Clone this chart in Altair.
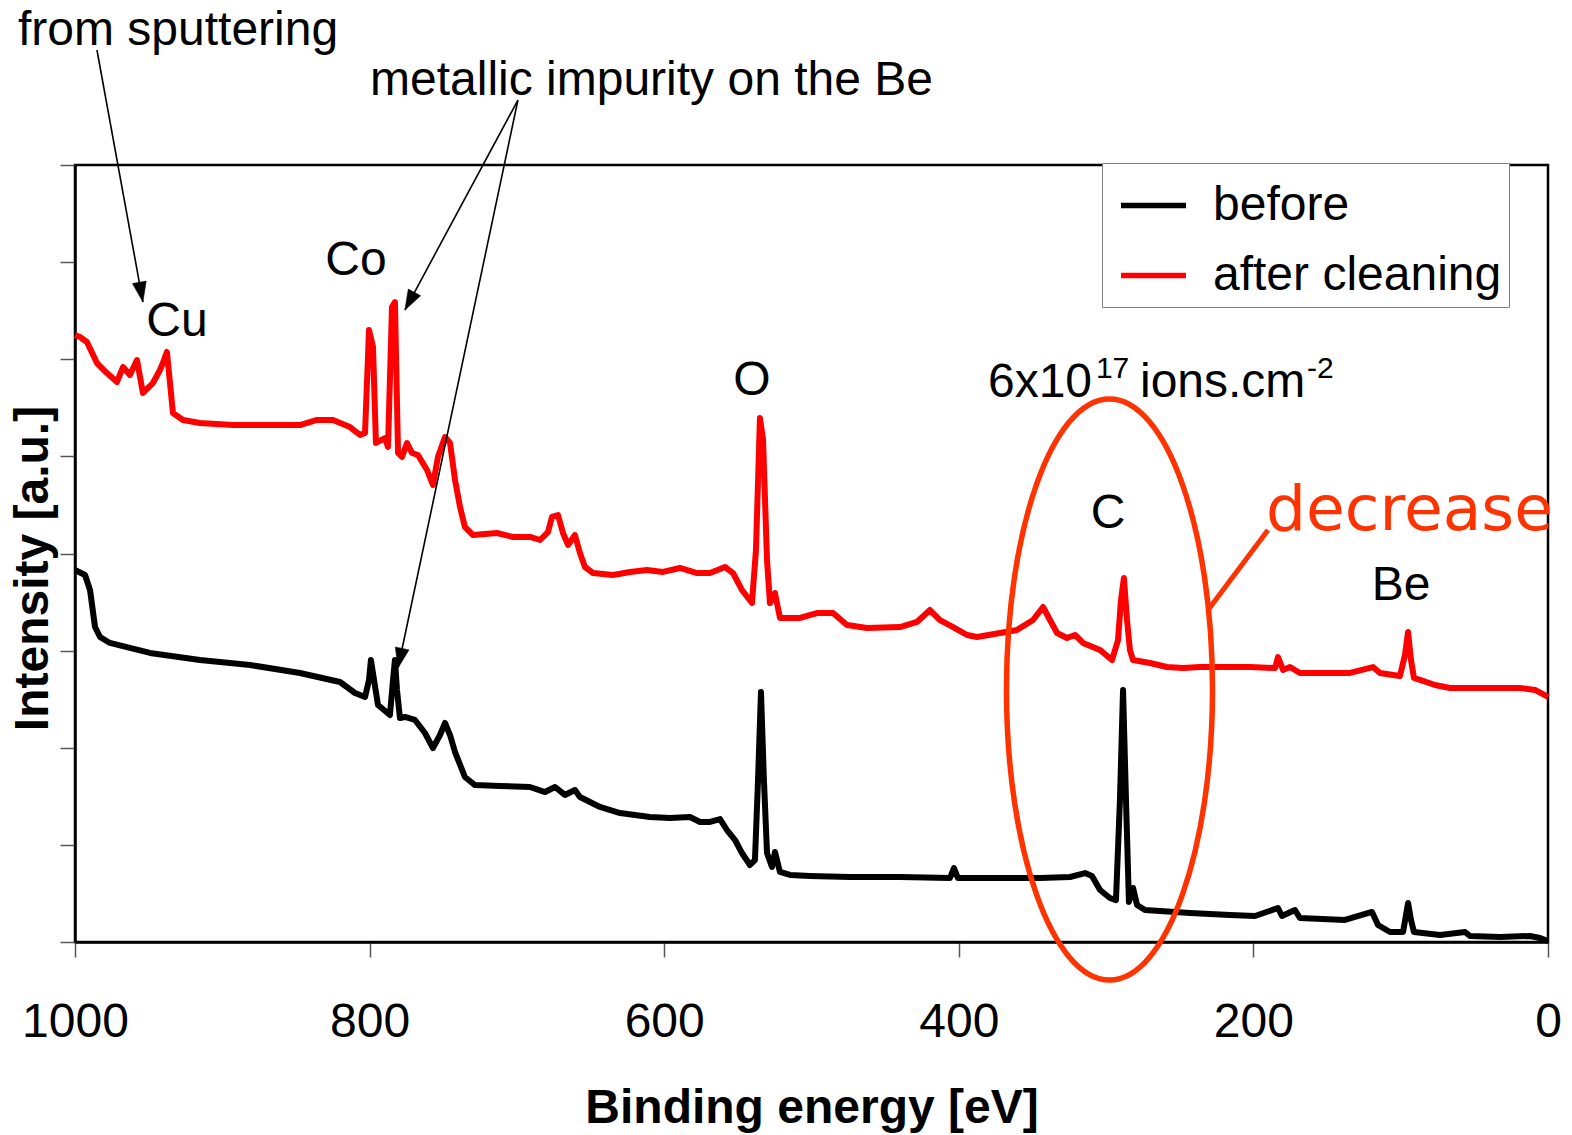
import altair as alt
import pandas as pd

# XPS survey spectra of the Be sample: binding energy (eV) and intensity (a.u.)
energy_before = [1000.0, 993.2, 989.8, 986.4, 983.0, 976.3, 949.1, 915.2, 881.2, 847.3,
                 820.1, 809.9, 803.1, 800.4, 799.1, 797.0, 794.3, 786.2, 784.1, 782.8,
                 781.4, 779.4, 776.0, 769.2, 762.4, 757.0, 752.2, 748.8, 745.4, 742.0,
                 735.3, 728.5, 711.5, 691.1, 680.9, 674.1, 667.4, 660.6, 657.2, 650.4,
                 643.6, 630.0, 609.7, 596.1, 582.5, 575.7, 568.9, 562.1, 557.4, 551.9,
                 547.2, 541.8, 538.4, 536.3, 534.3, 532.3, 530.2, 526.8, 524.8, 521.4,
                 514.6, 501.0, 473.9, 439.9, 406.0, 403.3, 400.6, 372.0, 344.9, 324.5,
                 314.3, 309.6, 304.1, 297.4, 293.3, 290.6, 288.5, 286.5, 284.5, 281.7,
                 279.0, 273.6, 253.2, 243.0, 215.9, 198.9, 183.3, 180.6, 171.8, 168.4,
                 137.8, 119.5, 115.4, 107.3, 98.4, 96.4, 95.0, 93.0, 91.0, 73.3,
                 56.3, 53.0, 32.6, 12.2, 5.4, 0.0]
intensity_before = [3.830, 3.779, 3.624, 3.243, 3.140, 3.079, 2.976, 2.903, 2.852, 2.770,
                    2.677, 2.564, 2.523, 2.698, 2.903, 2.698, 2.440, 2.337, 2.698, 2.903,
                    2.595, 2.306, 2.317, 2.286, 2.152, 1.997, 2.131, 2.255, 2.131, 1.956,
                    1.699, 1.616, 1.606, 1.596, 1.544, 1.596, 1.514, 1.565, 1.493, 1.441,
                    1.390, 1.328, 1.287, 1.277, 1.287, 1.236, 1.236, 1.266, 1.153, 1.050,
                    0.916, 0.793, 0.844, 1.668, 2.574, 1.668, 0.916, 0.772, 0.927, 0.721,
                    0.690, 0.680, 0.669, 0.669, 0.659, 0.762, 0.659, 0.659, 0.659, 0.669,
                    0.710, 0.680, 0.535, 0.453, 0.432, 1.462, 2.595, 1.462, 0.412, 0.556,
                    0.381, 0.329, 0.309, 0.299, 0.278, 0.268, 0.350, 0.268, 0.329, 0.247,
                    0.227, 0.309, 0.175, 0.103, 0.103, 0.278, 0.402, 0.227, 0.103, 0.072,
                    0.103, 0.062, 0.051, 0.062, 0.041, 0.010]

energy_after = [1000.0, 996.6, 991.9, 985.1, 978.3, 971.5, 967.4, 962.7, 957.9, 953.9,
                947.1, 942.3, 939.6, 937.6, 935.5, 933.5, 926.7, 915.2, 892.8, 869.7,
                847.3, 835.7, 824.9, 813.3, 806.5, 803.1, 800.4, 797.7, 795.7, 789.6,
                787.5, 784.8, 782.8, 780.7, 778.0, 774.6, 771.2, 767.2, 761.0, 757.0,
                753.6, 748.8, 745.4, 742.0, 738.6, 735.3, 729.8, 713.5, 702.7, 691.1,
                684.3, 678.9, 676.2, 672.1, 668.7, 665.3, 660.6, 657.2, 653.8, 648.3,
                634.8, 623.2, 611.7, 600.8, 589.3, 577.7, 568.9, 558.7, 553.3, 547.2,
                540.4, 537.7, 535.0, 532.9, 530.2, 528.2, 524.8, 521.4, 507.8, 496.3,
                485.4, 475.9, 462.3, 439.9, 428.4, 419.6, 412.8, 403.9, 394.4, 387.7,
                372.0, 360.5, 349.6, 342.8, 338.1, 333.3, 326.6, 321.1, 315.7, 304.1,
                296.0, 291.9, 289.9, 287.9, 285.8, 283.8, 281.7, 270.2, 258.7, 247.8,
                236.3, 202.3, 185.3, 183.3, 179.9, 175.2, 168.4, 134.4, 118.8, 114.1,
                100.5, 97.1, 95.0, 93.0, 91.0, 86.9, 76.7, 66.5, 32.6, 19.0,
                8.8, 0.0]
intensity_after = [6.250, 6.229, 6.178, 5.961, 5.858, 5.766, 5.920, 5.838, 5.992, 5.653,
                   5.755, 5.889, 5.992, 6.075, 5.755, 5.447, 5.375, 5.344, 5.323, 5.323,
                   5.323, 5.375, 5.375, 5.302, 5.220, 5.241, 6.301, 6.126, 5.138, 5.189,
                   5.097, 6.538, 6.589, 5.035, 4.994, 5.138, 5.035, 5.014, 4.860, 4.705,
                   4.994, 5.199, 5.138, 4.757, 4.479, 4.273, 4.190, 4.211, 4.170, 4.170,
                   4.139, 4.221, 4.376, 4.396, 4.211, 4.088, 4.190, 4.005, 3.861, 3.799,
                   3.779, 3.810, 3.830, 3.810, 3.851, 3.799, 3.799, 3.861, 3.799, 3.624,
                   3.490, 4.036, 5.395, 5.169, 3.933, 3.490, 3.593, 3.336, 3.336, 3.387,
                   3.387, 3.264, 3.233, 3.243, 3.295, 3.418, 3.315, 3.243, 3.161, 3.140,
                   3.181, 3.212, 3.315, 3.449, 3.315, 3.181, 3.130, 3.161, 3.079, 3.006,
                   2.903, 3.109, 3.521, 3.748, 3.315, 3.006, 2.903, 2.873, 2.831, 2.821,
                   2.831, 2.831, 2.821, 2.934, 2.801, 2.831, 2.770, 2.770, 2.831, 2.770,
                   2.739, 2.955, 3.192, 2.903, 2.718, 2.698, 2.646, 2.615, 2.615, 2.615,
                   2.595, 2.523]

series_names = ["before", "after cleaning"]
series_colors = ["#000000", "#ff0000"]
x_ticks = [0, 200, 400, 600, 800, 1000]
y_ticks = [0, 1, 2, 3, 4, 5, 6, 7, 8]

# Peak labels (centred) and free annotation texts
peak_labels = ["Cu", "Co", "O", "C", "Be"]
peak_energy = [930.8, 809.3, 540.4, 298.7, 99.8]
peak_level = [6.239, 6.867, 5.632, 4.263, 3.521]

note_labels = ["from sputtering", "metallic impurity on the Be", "6x10", "ions.cm"]
note_energy = [1038.7, 799.7, 380.2, 277.0]
note_level = [9.236, 8.721, 5.611, 5.611]

sup_labels = ["17", "-2"]
sup_energy = [306.9, 163.6]
sup_level = [5.807, 5.807]

# Annotation arrows: start -> tip, with head rotation (degrees, clockwise)
arrow_from_energy = [985.1, 699.3, 699.3]
arrow_from_level = [9.184, 8.669, 8.669]
arrow_to_energy = [953.9, 776.0, 780.7]
arrow_to_level = [6.589, 6.507, 2.821]
arrow_angle = [169.7, 208.3, 191.9]

# Highlight of the C 1s region and the "decrease" callout
highlight_energy = [297.7]
highlight_level = [2.600]
callout_from = (230.8, 3.418)
callout_to = (190.1, 4.242)
callout_text = "decrease"
callout_pos = (191.4, 4.242)

FONT = "Liberation Sans"
ACCENT = "#FF3300"

spectra = pd.concat([
    pd.DataFrame({"energy": energy_before, "intensity": intensity_before,
                  "series": "before", "idx": range(len(energy_before))}),
    pd.DataFrame({"energy": energy_after, "intensity": intensity_after,
                  "series": "after cleaning", "idx": range(len(energy_after))}),
])

x_enc = alt.X("energy:Q",
              scale=alt.Scale(domain=[0, 1000], reverse=True, nice=False, zero=False),
              axis=alt.Axis(values=x_ticks, format="d", title="Binding energy [eV]",
                            labelPadding=41, labelFlush=False, titlePadding=38))
y_enc = alt.Y("intensity:Q",
              scale=alt.Scale(domain=[0, 8], nice=False, zero=False),
              axis=alt.Axis(values=y_ticks, labels=False, title="Intensity [a.u.]",
                            titlePadding=2, titleY=403))

lines = alt.Chart(spectra).mark_line(strokeWidth=6, strokeJoin="round").encode(
    x=x_enc, y=y_enc,
    color=alt.Color("series:N",
                    scale=alt.Scale(domain=series_names, range=series_colors),
                    legend=alt.Legend(title=None, orient="none", legendX=1027, legendY=-2,
                                      symbolType="stroke", symbolSize=4225,
                                      symbolStrokeWidth=5.5, labelFontSize=48,
                                      labelFont=FONT, labelColor="black", labelOffset=24,
                                      labelLimit=500, padding=7, rowPadding=10,
                                      symbolOffset=9, strokeColor="#808080",
                                      fillColor="white")),
    order="idx:Q",
)

peaks_df = pd.DataFrame({"energy": peak_energy, "intensity": peak_level, "label": peak_labels})
peaks = alt.Chart(peaks_df).mark_text(font=FONT, fontSize=48, color="black",
                                      align="center", baseline="alphabetic").encode(
    x=x_enc, y=y_enc, text="label:N")

notes_df = pd.DataFrame({"energy": note_energy, "intensity": note_level, "label": note_labels})
notes = alt.Chart(notes_df).mark_text(font=FONT, fontSize=48, color="black",
                                      align="left", baseline="alphabetic").encode(
    x=x_enc, y=y_enc, text="label:N")

sup_df = pd.DataFrame({"energy": sup_energy, "intensity": sup_level, "label": sup_labels})
sups = alt.Chart(sup_df).mark_text(font=FONT, fontSize=30, color="black",
                                   align="left", baseline="alphabetic").encode(
    x=x_enc, y=y_enc, text="label:N")

arrows_df = pd.DataFrame({"energy": arrow_from_energy, "intensity": arrow_from_level,
                          "energy2": arrow_to_energy, "intensity2": arrow_to_level})
arrow_lines = alt.Chart(arrows_df).mark_rule(color="black", strokeWidth=1.6).encode(
    x=x_enc, y=y_enc, x2="energy2:Q", y2="intensity2:Q")

heads_df = pd.DataFrame({"energy": arrow_to_energy, "intensity": arrow_to_level,
                         "angle": arrow_angle})
arrow_heads = alt.Chart(heads_df).mark_point(
    shape="M0,0L-0.7,2L0.7,2Z", filled=True, fill="black", stroke="black",
    strokeWidth=0.5, size=400, opacity=1).encode(
    x=x_enc, y=y_enc, angle=alt.Angle("angle:Q", scale=None))

ellipse_path = ("M0,-1C0.1958,-1,0.3546,-0.5523,0.3546,0"
                "C0.3546,0.5523,0.1958,1,0,1"
                "C-0.1958,1,-0.3546,0.5523,-0.3546,0"
                "C-0.3546,-0.5523,-0.1958,-1,0,-1Z")
ellipse_df = pd.DataFrame({"energy": highlight_energy, "intensity": highlight_level})
ellipse = alt.Chart(ellipse_df).mark_point(
    shape=ellipse_path, filled=False, stroke=ACCENT, strokeWidth=5.5,
    size=337561, opacity=1).encode(x=x_enc, y=y_enc)

callout_df = pd.DataFrame({"energy": [callout_from[0]], "intensity": [callout_from[1]],
                           "energy2": [callout_to[0]], "intensity2": [callout_to[1]]})
callout_line = alt.Chart(callout_df).mark_rule(color=ACCENT, strokeWidth=5).encode(
    x=x_enc, y=y_enc, x2="energy2:Q", y2="intensity2:Q")

callout_label_df = pd.DataFrame({"energy": [callout_pos[0]], "intensity": [callout_pos[1]],
                                 "label": [callout_text]})
callout_label = alt.Chart(callout_label_df).mark_text(
    font="DejaVu Sans", fontSize=63, color=ACCENT, align="left",
    baseline="alphabetic").encode(x=x_enc, y=y_enc, text="label:N")

chart = alt.layer(
    lines, ellipse, callout_line, callout_label, arrow_lines, arrow_heads,
    peaks, notes, sups,
).properties(
    width=1473, height=777,
    autosize=alt.AutoSizeParams(type="none"),
    padding={"left": 75, "top": 165, "right": 24, "bottom": 193},
    background="white",
).configure_view(
    stroke="black", strokeWidth=2.5,
).configure_axis(
    grid=False, domainColor="black", domainWidth=2.5,
    tickColor="#555555", tickWidth=1.5, tickSize=15,
    labelFont=FONT, labelFontSize=48, labelColor="black",
    titleFont=FONT, titleFontSize=48, titleFontWeight="bold", titleColor="black",
)

chart.save("out.html", embed_options={"renderer": "svg", "actions": False})
